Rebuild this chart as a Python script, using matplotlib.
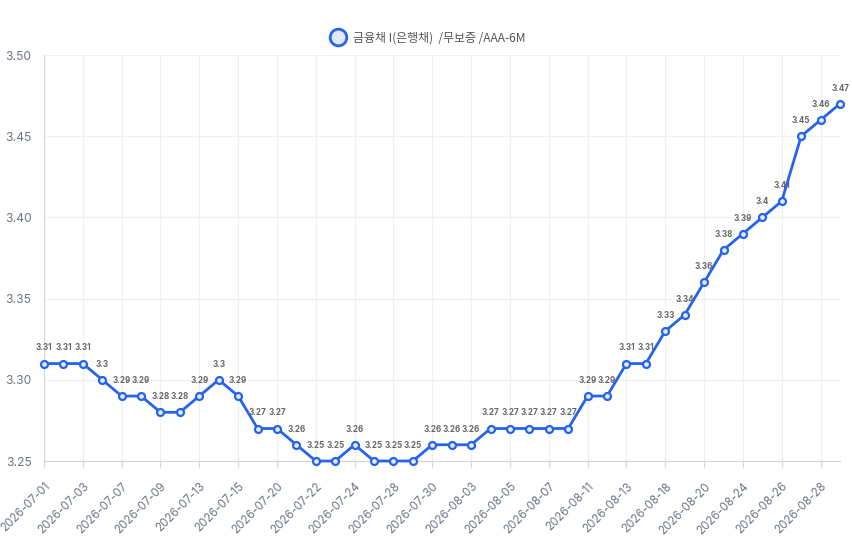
import matplotlib
matplotlib.use("Agg")
import matplotlib.pyplot as plt
from matplotlib.lines import Line2D

plt.rcParams['font.family'] = ['Inter', 'Noto Sans CJK KR', 'DejaVu Sans']

dates = ["2026-07-01", "2026-07-02", "2026-07-03", "2026-07-06", "2026-07-07", "2026-07-08",
         "2026-07-09", "2026-07-10", "2026-07-13", "2026-07-14", "2026-07-15", "2026-07-16",
         "2026-07-20", "2026-07-21", "2026-07-22", "2026-07-23", "2026-07-24", "2026-07-27",
         "2026-07-28", "2026-07-29", "2026-07-30", "2026-07-31", "2026-08-03", "2026-08-04",
         "2026-08-05", "2026-08-06", "2026-08-07", "2026-08-10", "2026-08-11", "2026-08-12",
         "2026-08-13", "2026-08-14", "2026-08-18", "2026-08-19", "2026-08-20", "2026-08-21",
         "2026-08-24", "2026-08-25", "2026-08-26", "2026-08-27", "2026-08-28", "2026-08-31"]
values = [3.31, 3.31, 3.31, 3.30, 3.29, 3.29, 3.28, 3.28, 3.29, 3.30, 3.29, 3.27, 3.27, 3.26,
          3.25, 3.25, 3.26, 3.25, 3.25, 3.25, 3.26, 3.26, 3.26, 3.27, 3.27, 3.27, 3.27, 3.27,
          3.29, 3.29, 3.31, 3.31, 3.33, 3.34, 3.36, 3.38, 3.39, 3.40, 3.41, 3.45, 3.46, 3.47]
series_name = "금융채 I(은행채)  /무보증 /AAA-6M"
y_ticks = [3.25, 3.30, 3.35, 3.40, 3.45, 3.50]

line_color = "#2563eb"
text_color = "#6b7489"

fig = plt.figure(figsize=(8.52, 5.42), dpi=100)
ax = fig.add_axes([44/852, 1 - 461/542, (840-44)/852, (461-55)/542])

x = list(range(len(dates)))
ax.plot(x, values, color=line_color, lw=2, marker='o', ms=5,
        mfc="#e6ecfb", mec=line_color, mew=1.6, zorder=3, clip_on=False)

for xi, v in zip(x, values):
    lab = f"{v:g}"
    ax.annotate(lab, (xi, v), xytext=(0, 8), textcoords='offset points',
                ha='center', va='bottom', fontsize=5.8, fontweight='bold',
                color="#666666", zorder=4)

ax.set_xlim(0, len(dates) - 1)
ax.set_ylim(3.25, 3.50)
ax.set_yticks(y_ticks)
ax.set_yticklabels([f"{t:.2f}" for t in y_ticks])
ax.set_xticks(x[::2])
ax.set_xticklabels(dates[::2], rotation=45, ha='right', rotation_mode='anchor')

ax.tick_params(axis='both', colors=text_color, labelsize=8.7, length=0)
ax.tick_params(axis='x', labelsize=8.3, pad=10)
ax.tick_params(axis='y', pad=9)
ax.tick_params(axis='x', which='major', length=4, color="#d1d5db", direction='out')

ax.grid(True, color="#eef0f5", lw=0.9, zorder=0)
for s in ['top', 'right']:
    ax.spines[s].set_visible(False)
ax.spines['left'].set_color("#d1d5db")
ax.spines['bottom'].set_color("#d1d5db")

handle = Line2D([], [], color='none', marker='o', ms=12, mfc="#e0e8fb", mec=line_color, mew=2)
fig.legend([handle], [series_name], loc='center', bbox_to_anchor=(0.5, 1 - 38/542),
           frameon=False, labelcolor="#555555", handletextpad=0.3,
           prop={'family': ['Noto Sans CJK KR', 'DejaVu Sans'], 'size': 8.6})

fig.savefig("out.png", dpi=100, facecolor='white')
